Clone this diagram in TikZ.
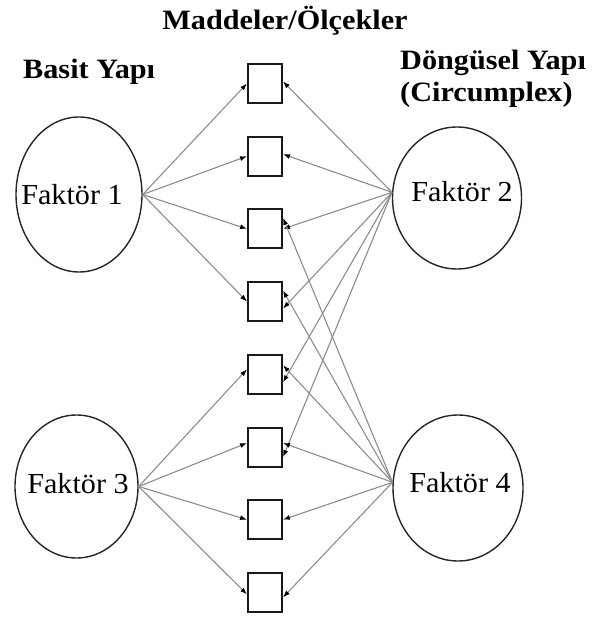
\documentclass[tikz,border=0pt]{standalone}
\usepackage{fontspec}
\setmainfont{Liberation Serif}
\usetikzlibrary{arrows.meta,shapes.geometric}
\newcommand{\wideb}[1]{\scalebox{1.08}[1]{#1}}
\newcommand{\widef}[1]{\scalebox{1.04}[1]{#1}}
\begin{document}
\begin{tikzpicture}[x=1pt,y=-1pt,
  ell/.style={draw=black!85, line width=1.4pt, ellipse, inner sep=0pt},
  itembox/.style={draw=black!90, line width=2pt, rectangle, inner sep=0pt, minimum width=34pt, minimum height=39pt},
  flab/.style={font=\fontsize{29}{33}\selectfont, inner sep=0pt},
  ttl/.style={font=\fontsize{28}{32}\selectfont\bfseries, inner sep=0pt},
  conn/.style={draw=black!45, line width=1.1pt, -{Latex[length=7pt,width=5pt,color=black]}}
]
\useasboundingbox (0,0) rectangle (594,617);

% titles
\node[ttl, anchor=base] (tm) at (285,30) {\wideb{Maddeler/Ölçekler}};
\node[ttl, anchor=base west] (tb) at (23,79) {\wideb{Basit Yapı}};
\node[ttl, anchor=base west] (td) at (400,70) {\wideb{Döngüsel Yapı}};
\node[ttl, anchor=base west] (tc) at (400,102) {\wideb{(Circumplex)}};

% factors
\node[ell, minimum width=126pt, minimum height=155pt] (F1) at (79,194.5) {};
\node[ell, minimum width=129pt, minimum height=142pt] (F2) at (457,198) {};
\node[ell, minimum width=123pt, minimum height=143pt] (F3) at (76.5,486.5) {};
\node[ell, minimum width=130pt, minimum height=146pt] (F4) at (458,488) {};
\node[flab] (l1) at (72,195) {\widef{Faktör 1}};
\node[flab] (l2) at (462,192) {\widef{Faktör 2}};
\node[flab] (l3) at (78,484) {\widef{Faktör 3}};
\node[flab] (l4) at (460,483) {\widef{Faktör 4}};

% items
\foreach \i in {1,...,8} {
  \node[itembox] (b\i) at (265,{83.5+72.7*(\i-1)}) {};
}

% Factor 1 -> items 1-4
\foreach \i in {1,...,4} {
  \draw[conn] (F1.east) -- (b\i.west);
}
% Factor 3 -> items 5-8
\draw[conn] (F3.east) -- ([yshift=5pt]b5.west);
\draw[conn] (F3.east) -- ([yshift=4pt]b6.west);
\draw[conn] (F3.east) -- (b7.west);
\draw[conn] (F3.east) -- ([yshift=-2pt]b8.west);

% Factor 2 -> items 1-6
\draw[conn] (F2.175) -- ([yshift=2pt]b1.east);
\draw[conn] (F2.175) -- ([yshift=2pt]b2.east);
\draw[conn] (F2.175) -- (b3.east);
\draw[conn] (F2.175) -- ([yshift=-7pt]b4.east);
\draw[conn] (F2.175) -- ([yshift=-8pt]b5.east);
\draw[conn] (F2.175) -- ([yshift=-10pt]b6.east);

% Factor 4 -> items 3-8
\draw[conn] (F4.175) -- ([yshift=11pt]b3.east);
\draw[conn] (F4.175) -- ([yshift=11pt]b4.east);
\draw[conn] (F4.175) -- ([yshift=9pt]b5.east);
\draw[conn] (F4.175) -- ([yshift=4pt]b6.east);
\draw[conn] (F4.175) -- (b7.east);
\draw[conn] (F4.175) -- ([yshift=-5pt]b8.east);
\end{tikzpicture}
\end{document}
